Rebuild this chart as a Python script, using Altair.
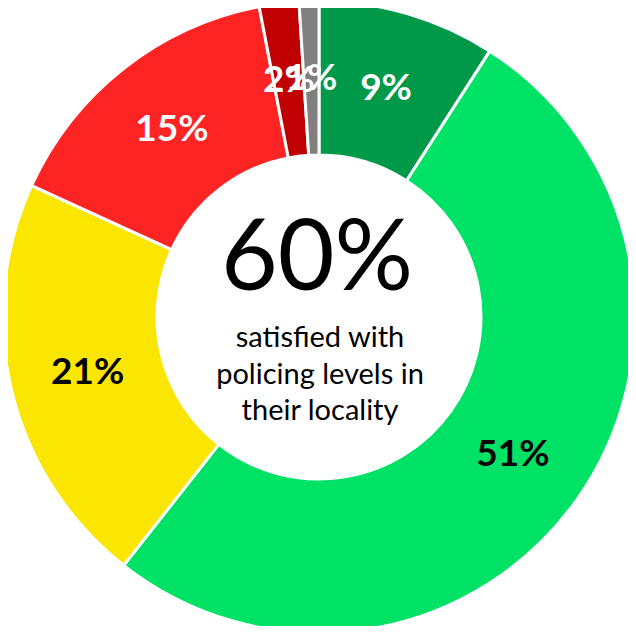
import altair as alt
import pandas as pd

categories = ["Very satisfied", "Fairly satisfied", "Neither", "Fairly dissatisfied",
              "Very dissatisfied", "Don't know"]
values = [9, 51, 21, 15, 2, 1]
labels = ["9%", "51%", "21%", "15%", "2%", "1%"]
colors = ["#00994A", "#00E266", "#FAE600", "#FF2424", "#C00000", "#808080"]
label_colors = ["#FFFFFF", "#000000", "#000000", "#FFFFFF", "#FFFFFF", "#FFFFFF"]
center_value = ["60%"]
center_lines = ["satisfied with", "policing levels in", "their locality"]

df = pd.DataFrame({
    "category": categories,
    "value": values,
    "label": labels,
    "order": list(range(len(values))),
    "label_color": label_colors,
})

CX, CY = 311, 309
FONT = "Lato, 'Open Sans', sans-serif"

base = alt.Chart(df).encode(
    theta=alt.Theta("value:Q", stack=True),
    order=alt.Order("order:Q", sort="ascending"),
)

arcs = base.mark_arc(innerRadius=162, outerRadius=316, stroke="white", strokeWidth=3).encode(
    color=alt.Color("category:N", scale=alt.Scale(domain=categories, range=colors), legend=None),
    x=alt.value(CX),
    y=alt.value(CY),
)

slice_text = base.mark_text(radius=238, font=FONT, fontSize=37, fontWeight="bold").encode(
    text="label:N",
    color=alt.Color("label_color:N", scale=None),
    x=alt.value(CX),
    y=alt.value(CY),
)

big = alt.Chart(pd.DataFrame({"t": center_value})).mark_text(
    font=FONT, fontSize=98, baseline="alphabetic", color="black"
).encode(text="t:N", x=alt.value(CX - 2), y=alt.value(282))

sub = alt.Chart(pd.DataFrame({"t": [center_lines]})).mark_text(
    font=FONT, fontSize=29, baseline="alphabetic", color="black", lineHeight=36.5
).encode(text=alt.value(center_lines), x=alt.value(CX + 1), y=alt.value(339))

chart = alt.layer(arcs, slice_text, big, sub).resolve_scale(color="independent").properties(
    width=620, height=618, padding=0, background="white",
    autosize=alt.AutoSizeParams(type="none"),
).configure_view(stroke=None)

chart.save("out.html", embed_options={"renderer": "svg", "actions": False})
